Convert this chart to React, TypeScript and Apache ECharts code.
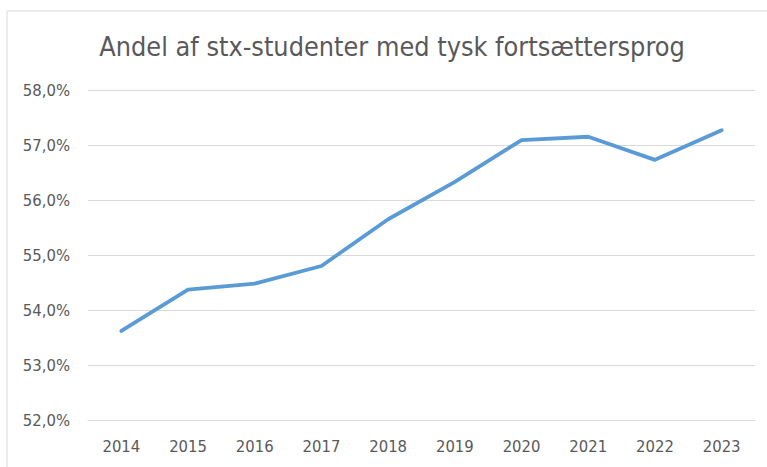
import React, { useEffect, useRef } from "react";
import * as echarts from "echarts";

const title = "Andel af stx-studenter med tysk fortsættersprog";
const years = ["2014", "2015", "2016", "2017", "2018", "2019", "2020", "2021", "2022", "2023"];
const shares = [53.62, 54.37, 54.48, 54.8, 55.65, 56.33, 57.09, 57.15, 56.73, 57.27];
const yMin = 52;
const yMax = 58;
const yStep = 1;

const FONT = "'Liberation Sans Narrow', 'DejaVu Sans Condensed', 'Liberation Sans', sans-serif";

export default function App() {
  const ref = useRef<HTMLDivElement>(null);
  useEffect(() => {
    if (!ref.current) return;
    const chart = echarts.init(ref.current, undefined, { renderer: "svg" });
    chart.setOption({
      animation: false,
      backgroundColor: "#ffffff",
      title: {
        text: title,
        left: 387,
        textAlign: "center",
        top: 28,
        textStyle: { fontFamily: FONT, fontSize: 26.8, fontWeight: "normal", color: "#595959" },
      },
      graphic: [
        {
          type: "rect",
          shape: { x: 7, y: 11, width: 800, height: 500 },
          style: { fill: "none", stroke: "#d9d9d9", lineWidth: 1 },
          silent: true,
        },
      ],
      grid: { left: 88, right: 12, top: 90, bottom: 47 },
      xAxis: {
        type: "category",
        data: years,
        boundaryGap: true,
        axisLine: { show: true, lineStyle: { color: "#d9d9d9" } },
        axisTick: { show: false },
        axisLabel: { color: "#595959", fontFamily: FONT, fontSize: 16.5, margin: 18 },
      },
      yAxis: {
        type: "value",
        min: yMin,
        max: yMax,
        interval: yStep,
        axisLine: { show: false },
        axisTick: { show: false },
        splitLine: { lineStyle: { color: "#d9d9d9", width: 1 } },
        axisLabel: {
          color: "#595959",
          fontFamily: FONT,
          fontSize: 16.5,
          margin: 18,
          formatter: (v: number) => v.toFixed(1).replace(".", ",") + "%",
        },
      },
      series: [
        {
          type: "line",
          data: shares,
          symbol: "none",
          lineStyle: { color: "#5B9BD5", width: 3.8, cap: "round", join: "round" },
          itemStyle: { color: "#5B9BD5" },
        },
      ],
    });
    return () => chart.dispose();
  }, []);
  return (
    <div
      ref={ref}
      style={{ position: "fixed", left: 0, top: 0, width: 767, height: 467 }}
    />
  );
}
